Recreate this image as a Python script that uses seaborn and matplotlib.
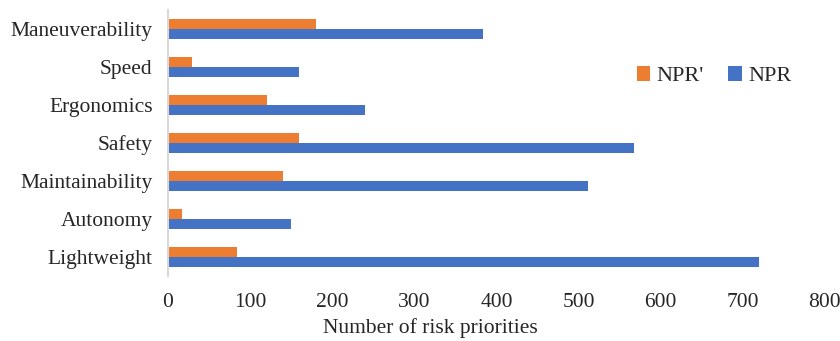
import matplotlib
matplotlib.use("Agg")
import matplotlib.pyplot as plt
import seaborn as sns
import pandas as pd

categories = ["Maneuverability", "Speed", "Ergonomics", "Safety",
              "Maintainability", "Autonomy", "Lightweight"]
npr_prime = [180, 29, 120, 160, 140, 17, 84]
npr = [384, 160, 240, 567, 512, 150, 720]
series_names = ["NPR'", "NPR"]
x_ticks = [0, 100, 200, 300, 400, 500, 600, 700, 800]

df = pd.DataFrame({
    "Category": categories * 2,
    "Value": npr_prime + npr,
    "Series": [series_names[0]] * len(categories) + [series_names[1]] * len(categories),
})

sns.set_theme(style="white")
plt.rcParams["font.family"] = ["Liberation Serif", "DejaVu Serif"]

fig, ax = plt.subplots(figsize=(8.4, 3.41), dpi=100)
fig.subplots_adjust(left=0.2, right=0.982, top=0.9707, bottom=0.1906)

sns.barplot(data=df, y="Category", x="Value", hue="Series",
            hue_order=series_names, order=categories, orient="h",
            palette=["#ED7D31", "#4472C4"], saturation=1, width=0.53,
            linewidth=0, ax=ax)

ax.set_xlim(0, 800)
ax.set_xticks(x_ticks)
ax.set_xticklabels([str(t) for t in x_ticks], fontsize=15.5)
ax.tick_params(axis="y", labelsize=15.5, pad=11, length=0)
ax.tick_params(axis="x", pad=12, length=0)
ax.set_ylabel("")
ax.set_xlabel("Number of risk priorities", fontsize=15.5)
ax.xaxis.set_label_coords(0.40, -0.158)

for side in ["top", "right", "bottom"]:
    ax.spines[side].set_visible(False)
ax.spines["left"].set_color("#D9D9D9")
ax.spines["left"].set_linewidth(1.5)

ax.legend(loc="center", bbox_to_anchor=(0.85, 0.776),
          bbox_transform=fig.transFigure, ncol=2, frameon=False,
          fontsize=16, handlelength=0.6, handleheight=0.6,
          handletextpad=0.3, columnspacing=1.1)

fig.savefig("out.png", dpi=100)
